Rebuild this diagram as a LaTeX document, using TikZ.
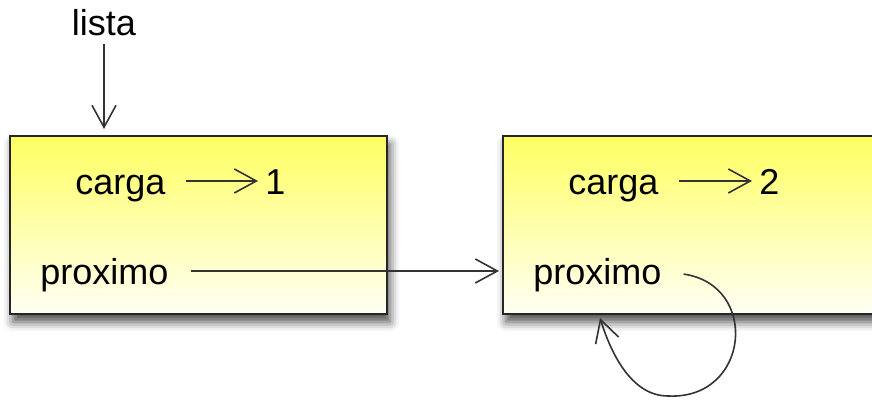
\documentclass[tikz,border=0pt]{standalone}
\usepackage{fontspec}
\setmainfont{Liberation Sans}
\usetikzlibrary{arrows.meta,shadows.blur}

\begin{document}
\begin{tikzpicture}[x=0.5pt,y=0.5pt,
  nodebox/.style={draw=black!85,line width=1pt,top color=yellow!62,bottom color=yellow!4,
    minimum width=188.5pt,minimum height=89pt,inner sep=0pt,
    blur shadow={shadow xshift=1.5pt,shadow yshift=-4pt,shadow blur radius=4.5pt,shadow opacity=70}},
  field/.style={inner sep=0pt,text height=14pt,text depth=0pt,font=\fontsize{18}{22}\selectfont},
  ptr/.style={-{Straight Barb[length=11pt,width=12pt,line width=0.8pt]},line width=0.8pt,black!80}]
\useasboundingbox (0,0) rectangle (872,400);

\node[field] (lista) at (104,378) {lista};

\node[nodebox] (no1) at (198.5,175) {};
\node[nodebox] (no2) at (691.5,175) {};

% campos do primeiro no
\node[field,anchor=base west] (carga1) at (75,205) {carga};
\node[field,anchor=base west] (val1) at (265,205) {1};
\node[field,anchor=base west] (prox1) at (40,115) {proximo};

% campos do segundo no
\node[field,anchor=base west] (carga2) at (568,205) {carga};
\node[field,anchor=base west] (val2) at (759,205) {2};
\node[field,anchor=base west] (prox2) at (533,115) {proximo};

\coordinate (volta) at (600,82);

\draw[ptr,shorten <=4pt,shorten >=3pt] (lista) -- (lista |- no1.north);
\draw[ptr,shorten <=10pt,shorten >=3.5pt] (carga1) -- (val1);
\draw[ptr,shorten <=10pt,shorten >=3.5pt] (carga2) -- (val2);
\draw[ptr,shorten <=11pt,shorten >=1.5pt] (prox1) -- (prox1 -| no2.west);
\draw[ptr,shorten <=11pt] (prox2.east) .. controls (760,115) and (750,0) .. (668,4)
  .. controls (630,4) and (610,50) .. (volta);

\end{tikzpicture}
\end{document}
